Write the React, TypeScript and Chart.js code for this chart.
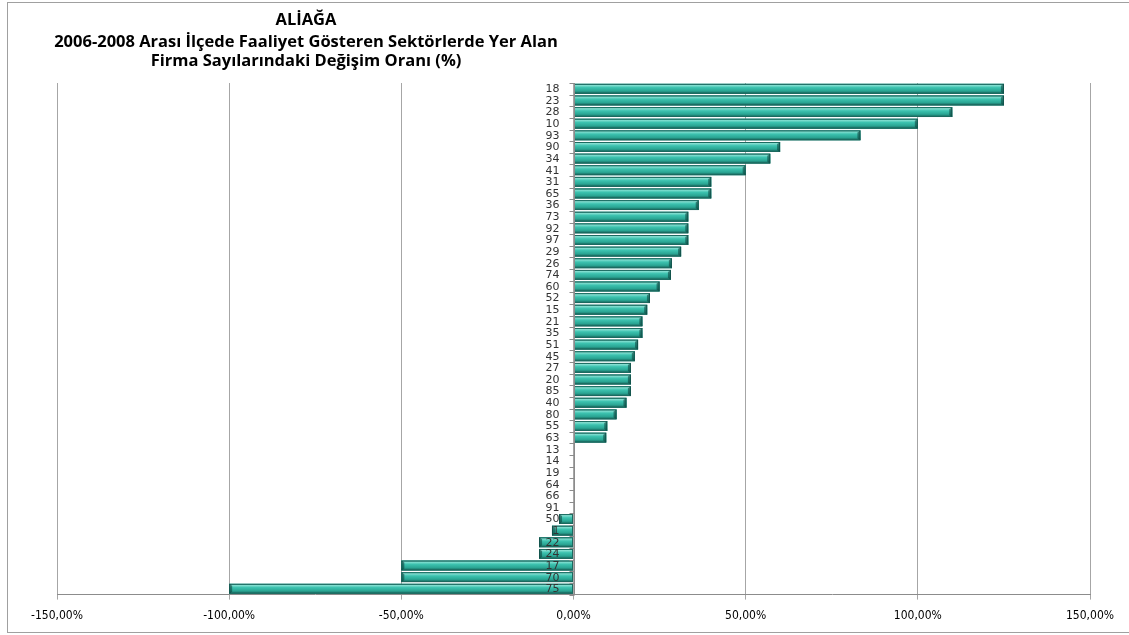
import React, { useEffect, useRef } from 'react';
import { Chart, registerables } from 'chart.js';

Chart.register(...registerables);

const titleLines = [
  'ALİAĞA',
  '2006-2008 Arası İlçede Faaliyet Gösteren Sektörlerde Yer Alan',
  'Firma Sayılarındaki Değişim Oranı (%)',
];

const sectorCodes = [
  '18', '23', '28', '10', '93', '90', '34', '41', '31', '65', '36', '73', '92', '97', '29',
  '26', '74', '60', '52', '15', '21', '35', '51', '45', '27', '20', '85', '40', '80', '55',
  '63', '13', '14', '19', '64', '66', '91', '50', '1', '22', '24', '17', '70', '75',
];

const changeRates = [
  125, 125, 110, 100, 83.33, 60, 57.14, 50, 40, 40, 36.36, 33.33, 33.33, 33.33, 31.25,
  28.57, 28.3, 25, 22.2, 21.4, 20, 20, 18.75, 17.8, 16.67, 16.67, 16.67, 15.38, 12.5, 9.8,
  9.5, 0, 0, 0, 0, 0, 0, -4.2, -6.25, -10, -10, -50, -50, -100,
];

const xTickValues = [-150, -100, -50, 0, 50, 100, 150];

const formatPercent = (v: number) => `${v.toFixed(2).replace('.', ',')}%`;

const bevelPlugin = {
  id: 'bevelBars',
  afterDatasetsDraw(chart: any) {
    const ctx = chart.ctx;
    const meta = chart.getDatasetMeta(0);
    ctx.save();
    meta.data.forEach((bar: any) => {
      const { x, y, base, height } = bar.getProps(['x', 'y', 'base', 'height'], true);
      const left = Math.min(x, base);
      const right = Math.max(x, base);
      const w = right - left;
      if (w < 0.5) return;
      const top = y - height / 2;
      const g = ctx.createLinearGradient(0, top, 0, top + height);
      g.addColorStop(0, '#23887c');
      g.addColorStop(0.14, '#86e0d2');
      g.addColorStop(0.38, '#3cc2af');
      g.addColorStop(0.72, '#2aa593');
      g.addColorStop(1, '#145a51');
      ctx.fillStyle = g;
      ctx.fillRect(left, top, w, height);
      ctx.strokeStyle = '#1d6a60';
      ctx.lineWidth = 1;
      ctx.strokeRect(left + 0.5, top + 0.5, w - 1, height - 1);
      const capX = x >= base ? right : left;
      const dir = x >= base ? -1 : 1;
      ctx.fillStyle = 'rgba(10,60,55,0.55)';
      ctx.beginPath();
      ctx.moveTo(capX, top);
      ctx.lineTo(capX, top + height);
      ctx.lineTo(capX + dir * 3, top + height - 2);
      ctx.lineTo(capX + dir * 3, top + 2);
      ctx.closePath();
      ctx.fill();
    });

    // category labels and tick marks at the zero line, drawn over the bars
    const yScale = chart.scales.y;
    const xScale = chart.scales.x;
    const zeroX = Math.round(xScale.getPixelForValue(0)) + 0.5;
    ctx.strokeStyle = '#8c8c8c';
    ctx.lineWidth = 1;
    ctx.beginPath();
    ctx.moveTo(zeroX, chart.chartArea.top);
    ctx.lineTo(zeroX, chart.chartArea.bottom);
    const n = sectorCodes.length;
    for (let i = 0; i <= n; i++) {
      const yb = Math.round(yScale.getPixelForValue(i - 0.5)) + 0.5;
      ctx.moveTo(zeroX - 5, yb);
      ctx.lineTo(zeroX, yb);
    }
    ctx.stroke();
    ctx.fillStyle = '#333';
    ctx.font = '11px "DejaVu Sans", Verdana, sans-serif';
    ctx.textAlign = 'right';
    ctx.textBaseline = 'middle';
    sectorCodes.forEach((code, i) => {
      ctx.fillText(code, zeroX - 15, yScale.getPixelForValue(i) + 0.5);
    });
    ctx.restore();
  },
};

export default function App() {
  const canvasRef = useRef<HTMLCanvasElement | null>(null);

  useEffect(() => {
    document.body.style.margin = '0';
    const canvas = canvasRef.current;
    if (!canvas) return;
    const chart = new Chart(canvas, {
      type: 'bar',
      data: {
        labels: sectorCodes,
        datasets: [
          {
            data: changeRates,
            backgroundColor: '#2aa898',
            borderWidth: 0,
            barPercentage: 0.85,
            categoryPercentage: 1.0,
          },
        ],
      },
      options: {
        indexAxis: 'y',
        responsive: false,
        animation: false,
        devicePixelRatio: 1,
        layout: { padding: { left: 57, right: 39, top: 83, bottom: 3 } },
        plugins: {
          legend: { display: false },
          title: { display: false },
          tooltip: { enabled: false },
        },
        scales: {
          x: {
            type: 'linear',
            min: -150,
            max: 150,
            afterBuildTicks: (axis: any) => {
              axis.ticks = xTickValues.map((v) => ({ value: v }));
            },
            ticks: {
              callback: (v: any) => formatPercent(Number(v)),
              color: '#000',
              font: { family: '"Liberation Sans Narrow", "DejaVu Sans Condensed", "Liberation Sans"', size: 12 },
              padding: 9,
              maxRotation: 0,
            },
            grid: {
              color: '#a6a6a6',
              lineWidth: 1,
              tickLength: 5,
            },
            border: { color: '#8c8c8c' },
          },
          y: {
            position: { x: 0 } as any,
            offset: true,
            ticks: { display: false },
            grid: { display: false },
            border: { display: false },
          },
        },
      },
      plugins: [bevelPlugin],
    } as any);
    return () => chart.destroy();
  }, []);

  const titleStyle = (top: number): React.CSSProperties => ({
    position: 'absolute',
    left: 306,
    top,
    transform: 'translate(-50%, -50%)',
    whiteSpace: 'nowrap',
    fontFamily: '"Open Sans", "Noto Sans", sans-serif',
    fontWeight: 700,
    fontSize: 16.5,
    color: '#000',
    lineHeight: 1,
  });

  return (
    <div style={{ position: 'fixed', left: 0, top: 0, width: 1129, height: 635, background: '#fff' }}>
      <div
        style={{
          position: 'absolute',
          left: 7,
          top: 2,
          width: 1140,
          height: 631,
          border: '1px solid #a0a0a0',
          boxSizing: 'border-box',
        }}
      />
      <canvas ref={canvasRef} width={1129} height={635} style={{ position: 'absolute', left: 0, top: 0 }} />
      <div style={titleStyle(19)}>{titleLines[0]}</div>
      <div style={titleStyle(41)}>{titleLines[1]}</div>
      <div style={titleStyle(60)}>{titleLines[2]}</div>
    </div>
  );
}
